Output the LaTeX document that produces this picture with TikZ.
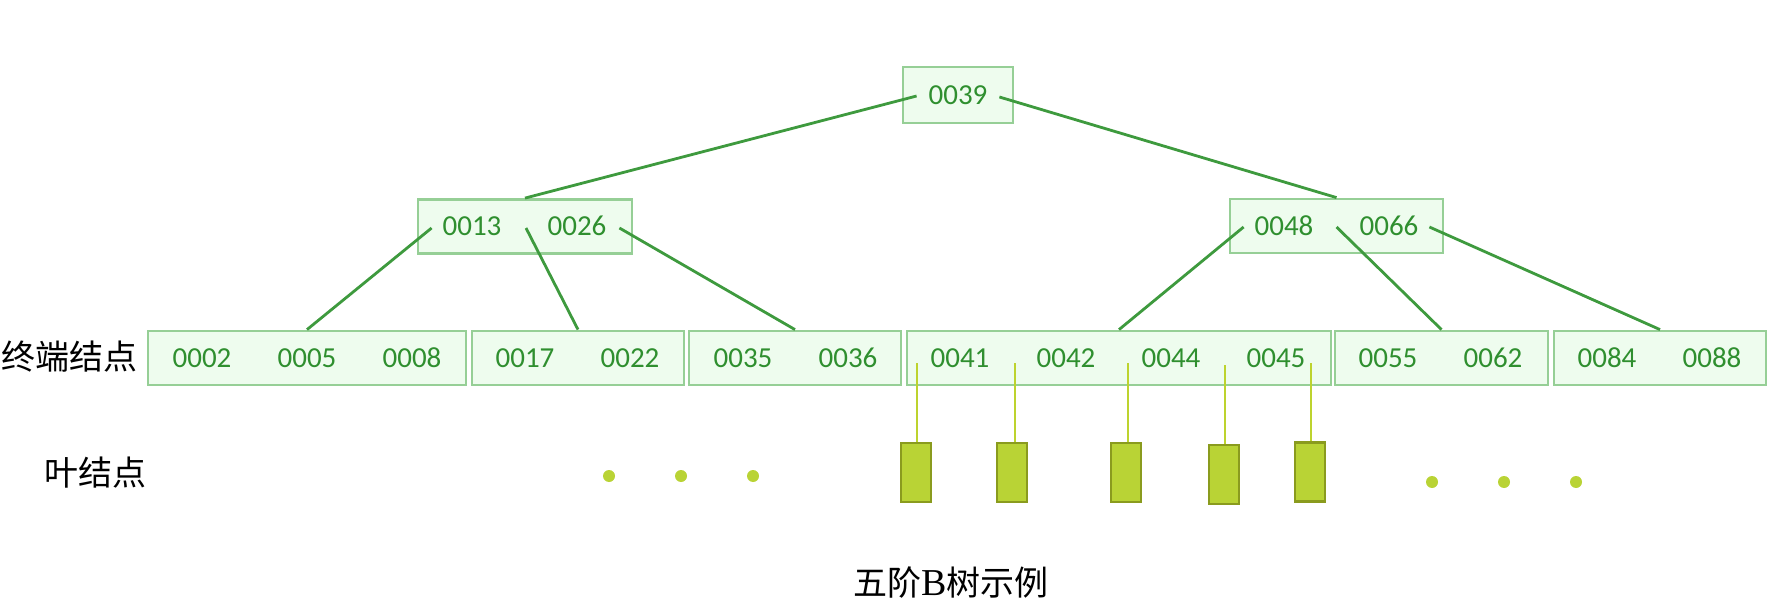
\documentclass[tikz,border=0pt]{standalone}
\usepackage{fontspec}
\setmainfont{Liberation Serif}
\newfontfamily\keyfont{Carlito}
\newfontfamily\cjk{Noto Sans CJK SC}
\usetikzlibrary{calc}

\definecolor{boxline}{HTML}{96CF96}
\definecolor{boxfill}{HTML}{EEFCEE}
\definecolor{keytext}{HTML}{2F8F2F}
\definecolor{linkgreen}{HTML}{3E9A3E}
\definecolor{leafline}{HTML}{BDD32E}
\definecolor{leaffill}{HTML}{B9D335}
\definecolor{leafedge}{HTML}{8A9B1E}

\begin{document}
\begin{tikzpicture}[x=0.5pt,y=-0.5pt,
  keybox/.style={draw=boxline, fill=boxfill, line width=1.4pt, inner sep=0pt, minimum height=27pt},
  key/.style={font=\keyfont\fontsize{14.5}{16}\selectfont, text=keytext, inner sep=0pt},
  link/.style={draw=linkgreen, line width=1.4pt},
  leaflink/.style={draw=leafline, line width=1pt},
  leafbox/.style={draw=leafedge, fill=leaffill, line width=1.2pt, minimum width=15pt, minimum height=29.5pt, inner sep=0pt},
  leafdot/.style={circle, fill=leaffill, minimum size=6pt, inner sep=0pt},
  caption/.style={font=\cjk\fontsize{17}{20}\selectfont, inner sep=0pt}]
\useasboundingbox (0,0) rectangle (1786,604);

% index boxes
\node[keybox, minimum width=55pt, minimum height=28pt] (root) at (958,95) {};
\node[keybox, minimum width=107pt] (ml) at (525,226.5) {};
\node[keybox, minimum width=106.5pt] (mr) at (1336.5,226) {};

% terminal boxes
\node[keybox, minimum width=159pt] (b1) at (307,358) {};
\node[keybox, minimum width=106pt] (b2) at (578,358) {};
\node[keybox, minimum width=106pt] (b3) at (795,358) {};
\node[keybox, minimum width=212pt] (b4) at (1119,358) {};
\node[keybox, minimum width=106.5pt] (b5) at (1441.5,358) {};
\node[keybox, minimum width=106pt] (b6) at (1660,358) {};

% child pointer positions
\coordinate (r0) at ($(root.west)+(15,1)$);
\coordinate (r1) at ($(root.east)+(-15,2)$);
\coordinate (ml0) at ($(ml.west)+(15,1.5)$);
\coordinate (ml1) at ($(ml.center)+(1,1.5)$);
\coordinate (ml2) at ($(ml.east)+(-14,1.5)$);
\coordinate (mr0) at ($(mr.west)+(15,1)$);
\coordinate (mr1) at ($(mr.center)+(0,1)$);
\coordinate (mr2) at ($(mr.east)+(-15,1)$);

\draw[link] (r0) -- (ml.north);
\draw[link] (r1) -- (mr.north);
\draw[link] (ml0) -- (b1.north);
\draw[link] (ml1) -- (b2.north);
\draw[link] (ml2) -- (b3.north);
\draw[link] (mr0) -- (b4.north);
\draw[link] (mr1) -- (b5.north);
\draw[link] (mr2) -- (b6.north);

% keys
\node[key] (k39) at (958,95) {0039};
\node[key] (k13) at (472,226) {0013};
\node[key] (k26) at (577,226) {0026};
\node[key] (k48) at (1284,226) {0048};
\node[key] (k66) at (1389,226) {0066};
\node[key] (k02) at (202,358) {0002};
\node[key] (k05) at (307,358) {0005};
\node[key] (k08) at (412,358) {0008};
\node[key] (k17) at (525,358) {0017};
\node[key] (k22) at (630,358) {0022};
\node[key] (k35) at (743,358) {0035};
\node[key] (k36) at (848,358) {0036};
\node[key] (k41) at (960,358) {0041};
\node[key] (k42) at (1066,358) {0042};
\node[key] (k44) at (1171,358) {0044};
\node[key] (k45) at (1276,358) {0045};
\node[key] (k55) at (1388,358) {0055};
\node[key] (k62) at (1493,358) {0062};
\node[key] (k84) at (1607,358) {0084};
\node[key] (k88) at (1712,358) {0088};

% leaf records under the middle terminal box
\node[leafbox] (f1) at (916,472.5) {};
\node[leafbox] (f2) at (1012,472.5) {};
\node[leafbox] (f3) at (1126,472.5) {};
\node[leafbox] (f4) at (1224,474.5) {};
\node[leafbox] (f5) at (1310,472) {};
\coordinate (p1) at (917,363);
\coordinate (p2) at (1015,363);
\coordinate (p3) at (1128,363);
\coordinate (p4) at (1225,365);
\coordinate (p5) at (1311,363);
\draw[leaflink] (p1) -- (p1 |- f1.north);
\draw[leaflink] (p2) -- (p2 |- f2.north);
\draw[leaflink] (p3) -- (p3 |- f3.north);
\draw[leaflink] (p4) -- (p4 |- f4.north);
\draw[leaflink] (p5) -- (p5 |- f5.north);

% ellipsis dots
\node[leafdot] (d1) at (609,476) {};
\node[leafdot] (d2) at (681,476) {};
\node[leafdot] (d3) at (753,476) {};
\node[leafdot] (d4) at (1432,482) {};
\node[leafdot] (d5) at (1504,482) {};
\node[leafdot] (d6) at (1576,482) {};

% captions
\node[caption] (lterm) at (70,357) {终端结点};
\node[caption] (lleaf) at (95,473) {叶结点};
\node[caption] (title) at (951,583) {五阶{\rmfamily\fontsize{19}{20}\selectfont B}树示例};
\end{tikzpicture}
\end{document}
